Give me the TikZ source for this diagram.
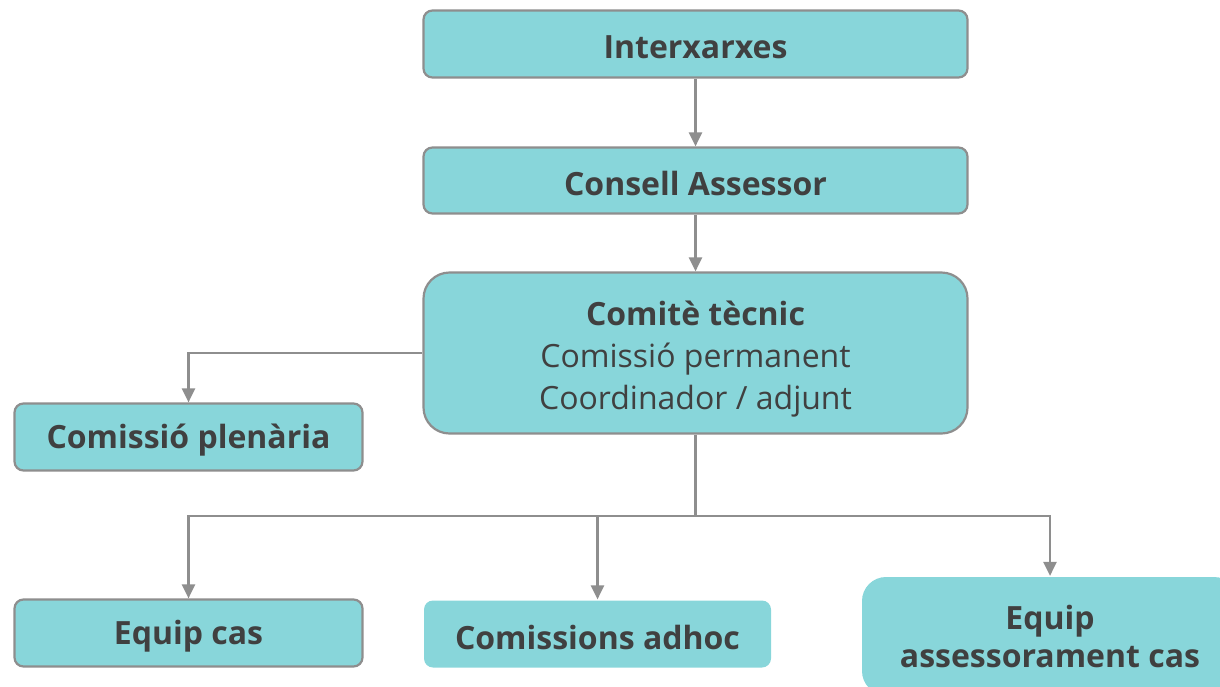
\documentclass[tikz,border=0pt]{standalone}
\usepackage{fontspec}
\setmainfont{Open Sans}
\usetikzlibrary{arrows.meta}
\definecolor{boxfill}{HTML}{88D6DA}
\definecolor{boxline}{HTML}{8E8E8E}
\definecolor{txt}{HTML}{404040}
\definecolor{arrcol}{HTML}{8E8E8E}
\newcommand{\regtxt}{\mdseries}
\newcommand{\dn}[1]{\raisebox{-3pt}[\height][\depth]{#1}}
\begin{document}
\begin{tikzpicture}[x=1pt,y=-1pt,
  box/.style={draw=boxline, line width=2.2pt, fill=boxfill, rounded corners=9pt,
    inner sep=0pt, text=txt, font=\fontsize{32}{38}\selectfont\bfseries, align=center},
  plain/.style={box, draw=none},
  arr/.style={draw=arrcol, line width=2.4pt, -{Triangle[length=14pt,width=13pt]}},
  ln/.style={draw=arrcol, line width=2.4pt}]
\useasboundingbox (0,0) rectangle (1220,686);
\clip (0,0) rectangle (1220,686);
\node[box, minimum width=544pt, minimum height=67pt] (inter) at (695.5,44) {\dn{Interxarxes}};
\node[box, minimum width=544pt, minimum height=66pt] (cons) at (695.5,180.5) {\dn{Consell Assessor}};
\node[box, rounded corners=26pt, minimum width=544pt, minimum height=161pt,
  font=\fontsize{32}{42}\selectfont\bfseries] (com) at (695.5,353)
  {\raisebox{-6pt}[\height][\depth]{\begin{tabular}{@{}c@{}}Comitè tècnic\\\regtxt Comissió permanent\\\regtxt Coordinador / adjunt\end{tabular}}};
\node[box, minimum width=348pt, minimum height=67pt] (plen) at (188.5,437) {\dn{Comissió plenària}};
\node[box, minimum width=348pt, minimum height=67pt] (cas) at (188.5,633) {\dn{Equip cas}};
\node[plain, minimum width=347pt, minimum height=67pt] (adhoc) at (597.5,634) {\dn{Comissions adhoc}};
\node[plain, rounded corners=24pt, minimum width=376pt, minimum height=118pt] (eac) at (1050,636)
  {Equip\\assessorament cas};
\coordinate (j) at (695.5,516);
\draw[arr] (inter.south) -- (cons.north);
\draw[arr] (cons.south) -- (com.north);
\draw[arr] (com.west) -| (plen.north);
\draw[ln] (com.south) -- (j);
\draw[arr] (j) -| (cas.north);
\draw[arr] (j) -| (adhoc.north);
\draw[arr] (j) -| (eac.north);
\end{tikzpicture}
\end{document}
